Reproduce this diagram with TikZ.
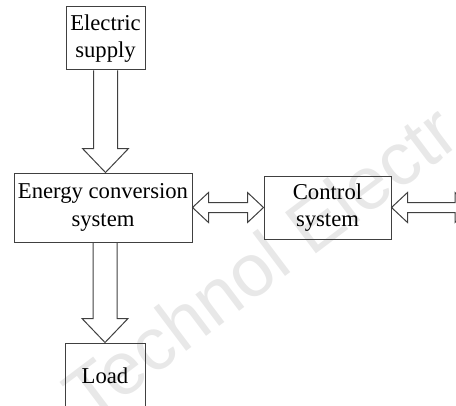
\documentclass[tikz,border=0pt]{standalone}
\usepackage{fontspec}
\setmainfont{Liberation Serif}
\newfontfamily\wmfont{Liberation Sans}
\usetikzlibrary{calc}
\begin{document}
\begin{tikzpicture}[x=0.75pt,y=-0.75pt,
  box/.style={draw=black!75, line width=0.75pt, inner sep=0pt,
    align=center, font=\fontsize{17}{20.5}\selectfont},
  blockarrow/.style={draw=black!75, line width=0.75pt, line join=miter},
  watermark/.style={rotate=37, anchor=base west, text=black!9,
    font=\wmfont\fontsize{56}{60}\selectfont, inner sep=0pt}]
\useasboundingbox (0,0) rectangle (456,406);
\clip (0,0) rectangle (456,406);
\node[watermark] (wm) at (89,425) {Technol Electr};
% boxes
\node[box, minimum width=59.25pt, minimum height=47.25pt] (sup) at (105.5,38.5) {Electric\\supply};
\node[box, minimum width=133.5pt, minimum height=51.75pt] (ecs) at (103,207.5) {Energy conversion\\system};
\node[box, minimum width=95.25pt, minimum height=47.25pt] (ctl) at (327.5,207.5) {Control\\system};
\node[box, minimum width=60pt, minimum height=48.75pt] (load) at (105,375.5) {Load};
\coordinate (rt) at (471,207.5);
% supply -> energy conversion
\path (sup.south) coordinate (a1s) (sup.south |- ecs.north) coordinate (a1e);
\draw[blockarrow] ($(a1s)+(-12,0)$) -- ($(a1e)+(-12,-24)$) -- ($(a1e)+(-23,-24)$) -- (a1e)
  -- ($(a1e)+(23,-24)$) -- ($(a1e)+(12,-24)$) -- ($(a1s)+(12,0)$);
% energy conversion -> load
\path (load.north |- ecs.south) coordinate (a2s) (load.north) coordinate (a2e);
\draw[blockarrow] ($(a2s)+(-12,0)$) -- ($(a2e)+(-12,-24)$) -- ($(a2e)+(-23,-24)$) -- (a2e)
  -- ($(a2e)+(23,-24)$) -- ($(a2e)+(12,-24)$) -- ($(a2s)+(12,0)$);
% energy conversion <-> control
\draw[blockarrow] (ecs.east) -- ++(16,-15) -- ++(0,10) -- ($(ctl.west)+(-16,-5)$) -- ++(0,-10)
  -- (ctl.west) -- ++(-16,15) -- ++(0,-10) -- ($(ecs.east)+(16,5)$) -- ++(0,10) -- cycle;
% control <-> (cut off)
\draw[blockarrow] (ctl.east) -- ++(16,-15) -- ++(0,10) -- ($(rt)+(-16,-5)$) -- ++(0,-10)
  -- (rt) -- ++(-16,15) -- ++(0,-10) -- ($(ctl.east)+(16,5)$) -- ++(0,10) -- cycle;
\end{tikzpicture}
\end{document}
